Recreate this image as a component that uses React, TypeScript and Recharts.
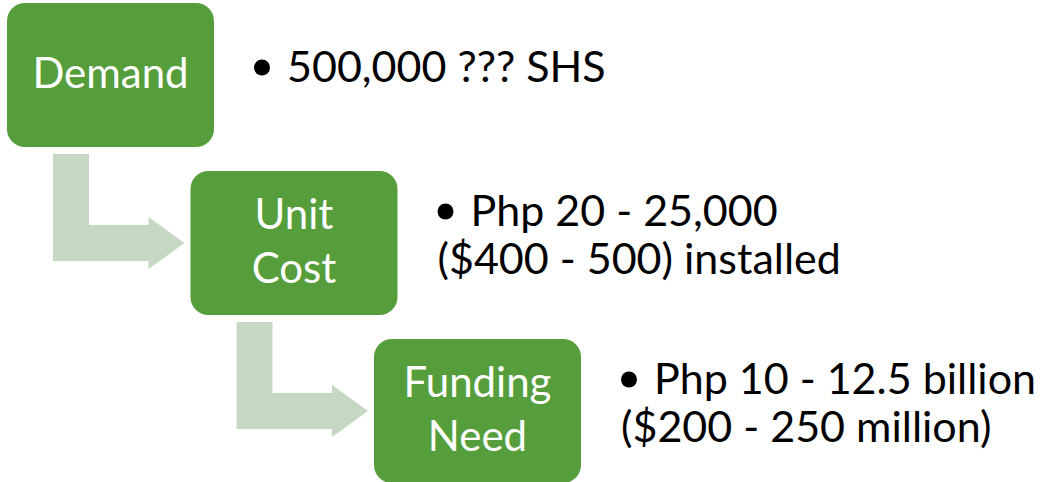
import React from 'react';
import { ScatterChart, Scatter, XAxis, YAxis } from 'recharts';

// step-down process: each step sits one column right and one row down
const steps = ['Demand', 'Unit Cost', 'Funding Need'];
const stepLabels = [['Demand'], ['Unit', 'Cost'], ['Funding', 'Need']];
const stepDetails = [
  ['500,000 ??? SHS'],
  ['Php 20 - 25,000', '($400 - 500) installed'],
  ['Php 10 - 12.5 billion', '($200 - 250 million)'],
];

const WIDTH = 1047;
const HEIGHT = 482;
const BOX_W = 207;
const BOX_H = 144;
const FIRST_CX = 110.5;
const FIRST_CY = 75;
const STEP_DX = 183.5;
const STEP_DY = 168;
const GREEN = '#559E3B';
const PALE = '#C5D9C2';
const FONT = 'Lato, Carlito, Calibri, sans-serif';

const boxData = steps.map((name, i) => ({
  col: i,
  row: i,
  name,
  label: stepLabels[i],
  details: stepDetails[i],
}));
// one connector per step after the first: from column i down to row i + 1
const linkData = steps.slice(1).map((name, i) => ({ col: i, row: i + 1, name }));

const xDomain = [-FIRST_CX / STEP_DX, (WIDTH - FIRST_CX) / STEP_DX];
const yDomain = [-FIRST_CY / STEP_DY, (HEIGHT - FIRST_CY) / STEP_DY];

function StepBox(props: any) {
  const { cx, cy, payload } = props;
  const n = payload.label.length;
  const m = payload.details.length;
  const tx = cx + BOX_W / 2 + 40;
  const lineY = (j: number) => cy + 7 + 48 * (j - (m - 1) / 2);
  return (
    <g>
      <rect x={cx - BOX_W / 2} y={cy - BOX_H / 2} width={BOX_W} height={BOX_H} rx={18} ry={18} fill={GREEN} />
      {payload.label.map((t: string, j: number) => (
        <text
          key={t}
          x={cx}
          y={cy + 13 + 54 * (j - (n - 1) / 2)}
          textAnchor="middle"
          fill="#fff"
          fontSize={42}
          fontFamily={FONT}
        >
          {t}
        </text>
      ))}
      <circle cx={tx + 8} cy={lineY(0) - 14.5} r={8} fill="#000" />
      {payload.details.map((t: string, j: number) => (
        <text key={t} x={j === 0 ? tx + 33 : tx} y={lineY(j)} fill="#000" fontSize={43} fontFamily={FONT}>
          {t}
        </text>
      ))}
    </g>
  );
}

function Connector(props: any) {
  const { cx, cy } = props;
  const x1 = cx - BOX_W / 2 + 46;
  const top = cy - STEP_DY + BOX_H / 2 + 7;
  const tip = cx + STEP_DX - BOX_W / 2 - 6;
  const shaftEnd = tip - 36;
  const d = `M${x1},${top} H${x1 + 36} V${cy - 18} H${shaftEnd} V${cy - 26} L${tip},${cy} L${shaftEnd},${cy + 26} V${cy + 18} H${x1} Z`;
  return <path d={d} fill={PALE} />;
}

export default function App() {
  return (
    <div style={{ position: 'absolute', left: 0, top: 0, width: WIDTH, height: HEIGHT, background: '#fff' }}>
      <ScatterChart width={WIDTH} height={HEIGHT} margin={{ top: 0, right: 0, bottom: 0, left: 0 }}>
        <XAxis type="number" dataKey="col" domain={xDomain} allowDataOverflow hide />
        <YAxis type="number" dataKey="row" domain={yDomain} allowDataOverflow reversed hide />
        <Scatter data={linkData} shape={Connector} isAnimationActive={false} />
        <Scatter data={boxData} shape={StepBox} isAnimationActive={false} />
      </ScatterChart>
    </div>
  );
}
